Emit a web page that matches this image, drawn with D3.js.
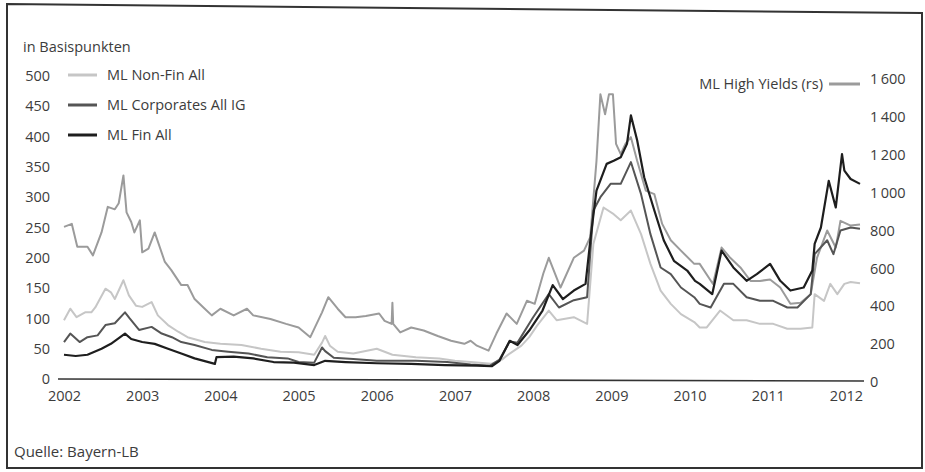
<!DOCTYPE html>
<html><head><meta charset="utf-8">
<script src="https://cdn.jsdelivr.net/npm/d3@7"></script>
<style>
html,body{margin:0;padding:0;background:#fff;}
svg text{font-family:"Open Sans","Noto Sans",sans-serif;}
</style></head>
<body>
<svg id="chart" width="925" height="472"></svg>
<script>
// ---------- data ----------
const years = [2002,2003,2004,2005,2006,2007,2008,2009,2010,2011,2012];
const leftTicks = [0,50,100,150,200,250,300,350,400,450,500];
const rightTicks = [0,200,400,600,800,1000,1200,1400,1600];
const seriesNames = ["ML Non-Fin All","ML Corporates All IG","ML Fin All","ML High Yields (rs)"];

// [decimal year, basis points]
const nonFin = [[2002.00,97],[2002.08,116],[2002.16,102],[2002.27,110],[2002.35,110],[2002.40,118],[2002.53,149],[2002.60,143],[2002.65,132],[2002.76,163],[2002.83,138],[2002.92,121],[2003.00,119],[2003.12,127],[2003.20,105],[2003.33,89],[2003.46,78],[2003.58,69],[2003.80,61],[2004.00,58],[2004.27,56],[2004.52,50],[2004.77,45],[2005.00,44],[2005.20,40],[2005.30,60],[2005.34,71],[2005.40,55],[2005.50,45],[2005.70,42],[2006.00,50],[2006.20,40],[2006.50,36],[2006.80,34],[2007.00,30],[2007.20,28],[2007.46,25],[2007.60,32],[2007.70,42],[2007.85,55],[2007.95,69],[2008.05,88],[2008.20,113],[2008.30,97],[2008.52,102],[2008.69,91],[2008.77,223],[2008.90,283],[2009.03,272],[2009.12,262],[2009.25,278],[2009.38,239],[2009.50,190],[2009.63,146],[2009.76,124],[2009.89,107],[2010.06,94],[2010.13,85],[2010.22,85],[2010.39,113],[2010.56,97],[2010.73,97],[2010.90,91],[2011.07,91],[2011.25,83],[2011.42,83],[2011.57,85],[2011.60,140],[2011.72,129],[2011.80,157],[2011.89,140],[2011.98,157],[2012.06,160],[2012.18,158]];

const corpIG = [[2002.00,61],[2002.08,75],[2002.20,61],[2002.30,69],[2002.43,72],[2002.53,89],[2002.65,92],[2002.78,110],[2002.84,100],[2002.96,81],[2003.12,86],[2003.25,75],[2003.38,69],[2003.50,61],[2003.67,56],[2003.89,48],[2004.10,45],[2004.36,42],[2004.60,36],[2004.86,34],[2005.00,28],[2005.20,27],[2005.30,52],[2005.34,46],[2005.45,35],[2005.70,33],[2006.00,30],[2006.50,30],[2006.90,28],[2007.20,24],[2007.45,22],[2007.57,32],[2007.70,62],[2007.80,60],[2008.00,102],[2008.20,140],[2008.33,118],[2008.52,130],[2008.69,135],[2008.77,278],[2008.86,300],[2008.99,322],[2009.12,322],[2009.25,358],[2009.38,305],[2009.50,239],[2009.63,184],[2009.76,173],[2009.89,151],[2010.06,135],[2010.13,124],[2010.27,118],[2010.44,157],[2010.56,157],[2010.73,135],[2010.90,129],[2011.07,129],[2011.25,118],[2011.38,118],[2011.55,140],[2011.60,206],[2011.76,229],[2011.84,206],[2011.93,245],[2012.06,250],[2012.18,248]];

const finAll = [[2002.00,40],[2002.15,38],[2002.30,40],[2002.48,50],[2002.60,58],[2002.78,75],[2002.86,66],[2003.00,61],[2003.16,58],[2003.33,50],[2003.50,42],[2003.67,34],[2003.93,25],[2003.95,36],[2004.17,37],[2004.42,34],[2004.68,28],[2004.94,27],[2005.20,23],[2005.34,30],[2005.60,28],[2006.00,26],[2006.44,25],[2006.87,23],[2007.28,22],[2007.47,21],[2007.57,30],[2007.70,63],[2007.80,56],[2007.95,80],[2008.12,113],[2008.25,155],[2008.38,132],[2008.52,146],[2008.67,157],[2008.74,239],[2008.81,311],[2008.94,355],[2009.03,360],[2009.12,366],[2009.20,388],[2009.25,435],[2009.33,394],[2009.42,333],[2009.55,278],[2009.67,229],[2009.80,195],[2009.97,179],[2010.07,162],[2010.13,157],[2010.29,140],[2010.41,212],[2010.56,184],[2010.73,162],[2010.86,173],[2011.03,190],[2011.16,162],[2011.29,146],[2011.46,151],[2011.57,179],[2011.60,223],[2011.68,250],[2011.78,327],[2011.87,283],[2011.95,371],[2011.98,344],[2012.06,330],[2012.18,322]];

// right scale (basis points)
const highYield = [[2002.00,803],[2002.10,819],[2002.17,698],[2002.30,698],[2002.37,653],[2002.48,774],[2002.56,909],[2002.65,896],[2002.70,928],[2002.76,1075],[2002.80,880],[2002.86,829],[2002.90,774],[2002.97,838],[2003.00,669],[2003.08,688],[2003.16,774],[2003.29,618],[2003.37,576],[2003.50,496],[2003.58,496],[2003.67,422],[2003.80,371],[2003.89,336],[2004.00,371],[2004.17,336],[2004.34,371],[2004.42,336],[2004.64,317],[2004.84,291],[2005.00,272],[2005.15,221],[2005.30,352],[2005.38,432],[2005.50,371],[2005.60,326],[2005.73,326],[2005.86,333],[2006.03,346],[2006.10,307],[2006.19,291],[2006.20,403],[2006.21,291],[2006.30,246],[2006.44,272],[2006.60,256],[2006.78,227],[2006.95,202],[2007.12,186],[2007.20,202],[2007.28,176],[2007.43,150],[2007.53,240],[2007.66,346],[2007.79,291],[2007.92,413],[2008.02,397],[2008.13,557],[2008.20,640],[2008.35,483],[2008.52,640],[2008.65,678],[2008.73,749],[2008.81,1152],[2008.86,1504],[2008.92,1398],[2008.97,1504],[2009.02,1504],[2009.06,1242],[2009.12,1187],[2009.18,1242],[2009.25,1277],[2009.33,1152],[2009.44,995],[2009.55,976],[2009.65,819],[2009.76,733],[2009.89,678],[2010.06,608],[2010.13,608],[2010.30,502],[2010.41,694],[2010.52,640],[2010.65,589],[2010.78,518],[2010.90,518],[2011.03,525],[2011.16,483],[2011.29,397],[2011.42,403],[2011.55,448],[2011.63,640],[2011.76,784],[2011.87,694],[2011.93,835],[2012.06,810],[2012.18,816]];

// ---------- drawing ----------
const svg = d3.select("#chart");
const colors = {nonFin:"#c6c6c6", corp:"#555555", fin:"#1e1e1e", hy:"#9b9b9b"};
const textCol = "#3c3c3c";

const x = d3.scaleLinear().domain([2002, 2012.18]).range([64, 860]);
const yL = d3.scaleLinear().domain([0, 500]).range([379, 76]);
const yR = d3.scaleLinear().domain([0, 1600]).range([379, 76]);

// frame
svg.append("path")
  .attr("d", "M7,4 L922,13 L922,468 L7,468 Z")
  .attr("fill","none").attr("stroke","#333").attr("stroke-width",2);

svg.append("text").attr("x",23).attr("y",52).attr("font-size",14.5).attr("fill",textCol).text("in Basispunkten");

// left axis
const gL = svg.append("g").attr("transform","translate(50,0)")
  .call(d3.axisLeft(yL).tickValues(leftTicks).tickSize(0).tickPadding(0));
gL.select(".domain").remove();
gL.selectAll("text").attr("font-size",14.5).attr("fill",textCol).attr("font-family","Open Sans, Noto Sans, sans-serif");

// right axis
const fmtR = v => v >= 1000 ? Math.floor(v/1000) + "\u2009" + String(v%1000).padStart(3,"0") : String(v);
const gR = svg.append("g").attr("transform","translate(870,3)")
  .call(d3.axisRight(yR).tickValues(rightTicks).tickSize(0).tickPadding(0).tickFormat(fmtR));
gR.select(".domain").remove();
gR.selectAll("text").attr("font-size",14.5).attr("fill",textCol).attr("font-family","Open Sans, Noto Sans, sans-serif");

// lines
const line = (ys) => d3.line().x(d => x(d[0])).y(d => ys(d[1]));
const plot = [
  {data: highYield, ys: yR, c: colors.hy, w: 2},
  {data: nonFin, ys: yL, c: colors.nonFin, w: 2},
  {data: corpIG, ys: yL, c: colors.corp, w: 2},
  {data: finAll, ys: yL, c: colors.fin, w: 2.2}
];
plot.forEach(p => {
  svg.append("path").datum(p.data)
    .attr("d", line(p.ys))
    .attr("fill","none").attr("stroke",p.c).attr("stroke-width",p.w)
    .attr("stroke-linejoin","round");
});

// x axis
svg.append("line").attr("x1",58).attr("x2",864).attr("y1",yL(0)).attr("y2",yL(0)+2)
  .attr("stroke","#333").attr("stroke-width",1.6);
const gX = svg.append("g").attr("transform",`translate(0,${yL(0)+6})`)
  .call(d3.axisBottom(x).tickValues(years).tickSize(0).tickPadding(6).tickFormat(d3.format("d")));
gX.select(".domain").remove();
gX.selectAll("text").attr("font-size",14.5).attr("fill",textCol).attr("font-family","Open Sans, Noto Sans, sans-serif");

// legend left
const legColors = [colors.nonFin, colors.corp, colors.fin];
const legY = [75, 105, 135];
seriesNames.slice(0,3).forEach((n,i) => {
  svg.append("line").attr("x1",68).attr("x2",97).attr("y1",legY[i]).attr("y2",legY[i])
    .attr("stroke",legColors[i]).attr("stroke-width",3);
  svg.append("text").attr("x",107).attr("y",legY[i]+5).attr("font-size",14.5).attr("fill",textCol).text(n);
});
// legend right
svg.append("line").attr("x1",829).attr("x2",860).attr("y1",84).attr("y2",84)
  .attr("stroke",colors.hy).attr("stroke-width",3);
svg.append("text").attr("x",823).attr("y",89).attr("text-anchor","end").attr("font-size",14.5).attr("fill",textCol).text(seriesNames[3]);

// source
svg.append("text").attr("x",14).attr("y",457).attr("font-size",15).attr("fill",textCol).text("Quelle: Bayern-LB");
</script>
</body></html>
